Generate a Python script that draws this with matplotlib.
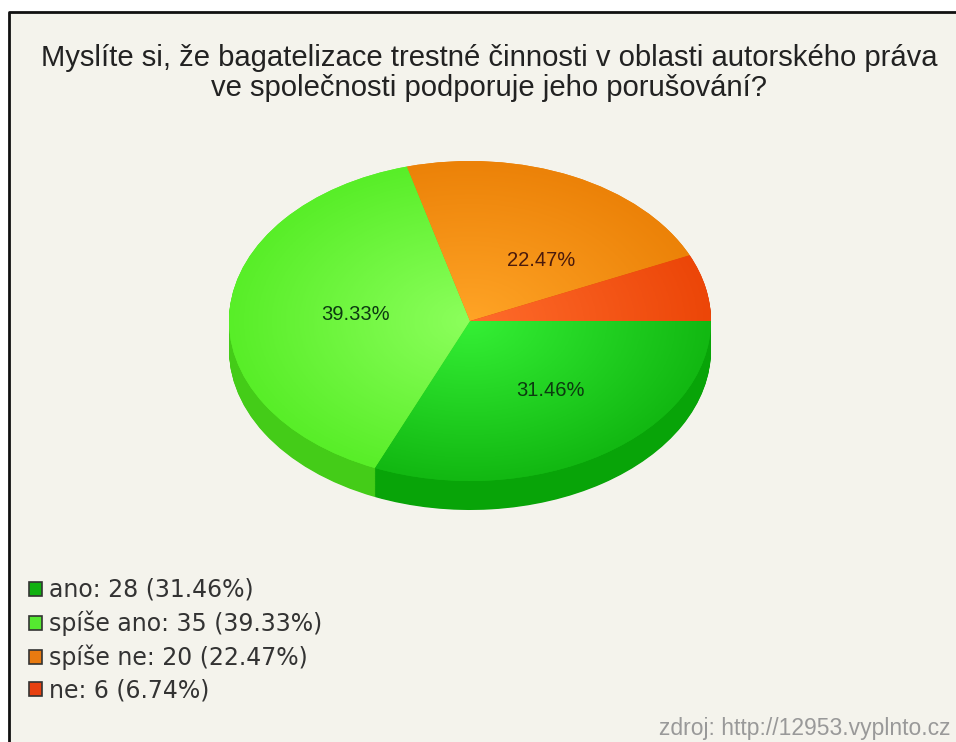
# Pie with fake 3D side, pixel layout taken from the 956x742 picture
import numpy as np
from matplotlib import pyplot as plt
from matplotlib.colors import LinearSegmentedColormap
from matplotlib.patches import Patch

plt.rcParams['font.family'] = ['Liberation Sans', 'DejaVu Sans']

labels = ['ano', 'spíše ano', 'spíše ne', 'ne']
counts = [28, 35, 20, 6]
pie_labels = ['31.46%', '39.33%', '22.47%']
legend_pct = ['31.46%', '39.33%', '22.47%', '6.74%']

title = 'Myslíte si, že bagatelizace trestné činnosti v oblasti autorského práva\nve společnosti podporuje jeho porušování?'
source = 'zdroj: http://12953.vyplnto.cz'

inner_colors = ['#35f035', '#8cff5c', '#ffa426', '#ff6c2c']
outer_colors = ['#12b812', '#58ee28', '#ec8208', '#ec4608']
side_colors = ['#08a408', '#44cc18', '#b86000', '#b83000']
legend_colors = ['#10b010', '#55e830', '#e87a10', '#e84010']
pie_label_colors = ['#0c3a10', '#0c3a10', '#4a1a0c']

W, H = 956, 742
bg = '#f4f3ec'

fig = plt.figure(figsize=(W / 100, H / 100), dpi=100, facecolor='white')

# backdrop in pixel coordinates
base = fig.add_axes([0, 0, 1, 1])
base.set_xlim(0, W)
base.set_ylim(H, 0)
base.axis('off')
base.fill_between([9, W], 12, H, color=bg, zorder=0)
base.plot([9, 9, W], [H, 12, 12], color='#111111', lw=2, zorder=1, solid_capstyle='butt')

# pie axes, 1 unit = the ellipse radius
cx, cy, rx, ry = 470, 321, 241, 160
depth = 29 / ry
ax = fig.add_axes([(cx - rx) / W, 1 - (cy + ry) / H, 2 * rx / W, 2 * ry / H])

# side: same pie stacked downwards
for d in np.linspace(depth, 0.005, 40):
    ax.pie(counts, colors=side_colors, center=(0, -d), radius=1, counterclock=False, startangle=0)

wedges, _ = ax.pie(counts, colors=outer_colors, radius=1, counterclock=False, startangle=0)

# radial shading on the top face
yy, xx = np.mgrid[-1:1:300j, -1:1:300j]
dist = np.clip(np.hypot(xx, yy), 0, 1)
for w, c1, c2 in zip(wedges, inner_colors, outer_colors):
    cmap = LinearSegmentedColormap.from_list('s', [c1, c2])
    im = ax.imshow(dist, extent=(-1, 1, -1, 1), cmap=cmap, vmin=0, vmax=1, aspect='auto', zorder=3)
    im.set_clip_path(w)

ax.set_aspect('auto')
ax.set_xlim(-1, 1)
ax.set_ylim(-1, 1)
ax.patch.set_visible(False)
ax.set_clip_on(False)
for a in ax.patches:
    a.set_clip_on(False)

# text on top of everything
top = fig.add_axes([0, 0, 1, 1])
top.set_xlim(0, W)
top.set_ylim(H, 0)
top.axis('off')

top.text(489, 73, title, ha='center', va='center', fontsize=21.1, color='#222222', linespacing=1.13)

for txt, x, y, c in zip(pie_labels, [550, 356, 541], [390, 314, 260], pie_label_colors):
    top.text(x, y, txt, ha='center', va='center', fontsize=14.5, color=c)

handles = [Patch(facecolor=c, edgecolor='#333333', lw=1.2) for c in legend_colors]
names = [f'{n}: {v} ({p})' for n, v, p in zip(labels, counts, legend_pct)]
top.legend(handles, names, loc='upper left', bbox_to_anchor=(29 / W, 1 - 578 / H), frameon=False,
           prop={'family': 'DejaVu Sans', 'size': 17}, labelcolor='#333333', handlelength=0.55, handleheight=0.55,
           handletextpad=0.3, labelspacing=0.36, borderpad=0, borderaxespad=0)

top.text(951, 728, source, ha='right', va='center', fontsize=16.5, color='#999999')

fig.savefig('out.png', dpi=100, facecolor='white')
